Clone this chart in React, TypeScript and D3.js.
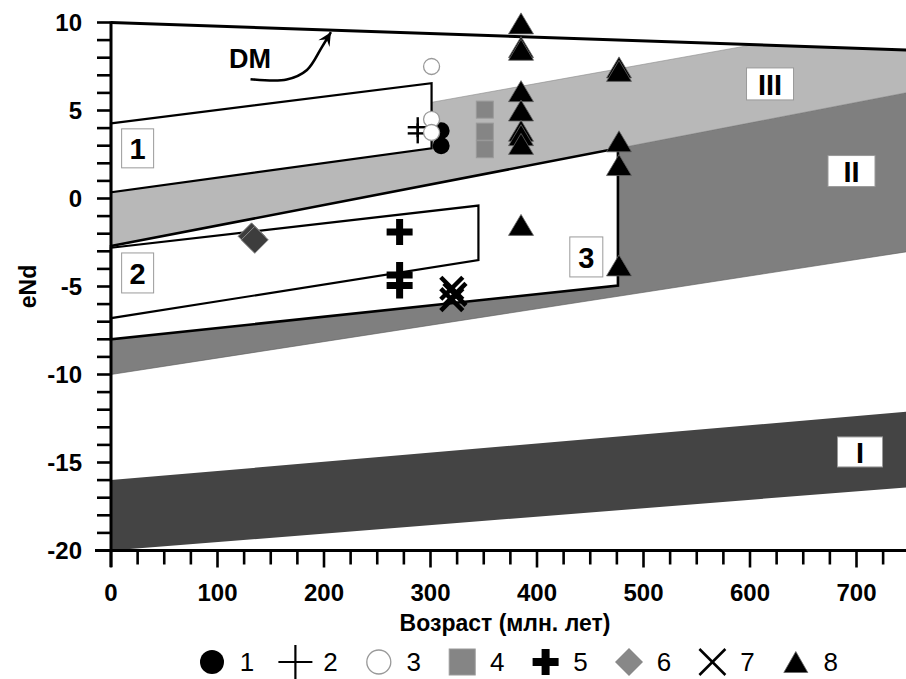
import React from 'react';
import * as d3 from 'd3';

const W = 906;
const H = 679;
const FONT = '"Liberation Sans", Arial, Helvetica, sans-serif';

// ---- axes ----
const xDomain: [number, number] = [0, 750];
const yDomain: [number, number] = [-20, 10];
const xMinorTicks = d3.range(0, 751, 25);
const xMajorTicks = [0, 100, 200, 300, 400, 500, 600, 700];
const yTicks = d3.range(-20, 11, 1);
const yTickLabels = [-20, -15, -10, -5, 0, 5, 10];
const xTitle = 'Возраст (млн. лет)';
const yTitle = 'eNd';

// ---- fields (age, eNd) ----
const dmLine: [number, number][] = [[0, 10], [750, 8.43]];
const zoneITop: [number, number][] = [[0, -16], [750, -12.1]];
const zoneIBottom: [number, number][] = [[0, -20], [750, -16.4]];
const zoneIITop: [number, number][] = [[0, -2.7], [750, 6.05]];
const zoneIIBottom: [number, number][] = [[0, -10], [750, -3.0]];
const zoneIIITop: [number, number][] = [[0, 2.2], [603, 8.74], [750, 8.43]];
const zoneIIIBottom: [number, number][] = [[0, -2.7], [750, 6.05]];
const region1: [number, number][] = [[0, 4.27], [301, 6.55], [301, 2.85], [0, 0.35]];
const region2: [number, number][] = [[0, -2.8], [345, -0.4], [345, -3.5], [0, -6.8]];
const region3: [number, number][] = [[0, -2.7], [476, 2.85], [476, -4.95], [0, -8.0]];

// labels of fields: [text, age, eNd, boxW, boxH]
const regionLabels: [string, number, number, number, number][] = [
  ['1', 25, 2.85, 32, 39],
  ['2', 25, -4.23, 32, 40],
  ['3', 446.3, -3.32, 33, 40],
  ['III', 618.8, 6.51, 47, 32],
  ['II', 695.3, 1.56, 47, 31],
  ['I', 703.3, -14.4, 45, 30],
];

const dmLabel: [number, number] = [130.5, 7.95];
const dmArrow: [number, number][] = [[131, 6.78], [165, 6.76], [184, 7.3], [198, 8.6], [206.5, 9.45]];

// ---- samples (age, eNd) ----
const s1: [number, number][] = [[310, 3.85], [310, 3.0]];
const s2: [number, number][] = [[288, 4.05], [288, 3.7]];
const s3: [number, number][] = [[301, 7.5], [301, 4.5], [301, 3.75]];
const s4: [number, number][] = [[351, 5.05], [351, 3.8], [351, 2.8]];
const s5: [number, number][] = [[271, -1.9], [271, -4.35], [271, -4.95]];
const s6: [number, number][] = [[132, -2.15], [135, -2.35]];
const s7: [number, number][] = [[320, -5.1], [323, -5.45], [320, -5.75]];
const s8: [number, number][] = [
  [385, 9.95], [385, 8.6], [385, 8.45], [385, 6.1], [385, 5.0], [385, 3.85], [385, 3.6], [385, 3.1], [385, -1.5],
  [477, 7.45], [477, 7.25], [477, 3.25], [477, 1.9], [477, -3.8],
];
const legendLabels = ['1', '2', '3', '4', '5', '6', '7', '8'];

const x = d3.scaleLinear().domain(xDomain).range([111, 111 + 750 * 1.065]);
const y = d3.scaleLinear().domain(yDomain).range([550.5, 22.5]);

const line = d3.line<[number, number]>().x(d => x(d[0])).y(d => y(d[1]));
const bandPath = (top: [number, number][], bottom: [number, number][]) =>
  line([...top, ...bottom.slice().reverse()]) + 'Z';
const polyPath = (pts: [number, number][]) => line(pts) + 'Z';

function tri(cx: number, cy: number, w: number, h: number) {
  return `M${cx},${cy - h / 2}L${cx + w / 2},${cy + h / 2}L${cx - w / 2},${cy + h / 2}Z`;
}
function boldPlus(cx: number, cy: number, s: number, t: number) {
  const a = s / 2, b = t / 2;
  return `M${cx - b},${cy - a}H${cx + b}V${cy - b}H${cx + a}V${cy + b}H${cx + b}V${cy + a}H${cx - b}V${cy + b}H${cx - a}V${cy - b}H${cx - b}Z`;
}
function diamond(cx: number, cy: number, s: number) {
  const a = s / 2;
  return `M${cx},${cy - a}L${cx + a},${cy}L${cx},${cy + a}L${cx - a},${cy}Z`;
}

function Symbol({ k, cx, cy, big }: { k: number; cx: number; cy: number; big?: boolean }) {
  switch (k) {
    case 0:
      return <circle cx={cx} cy={cy} r={big ? 12 : 8.5} fill="#000" />;
    case 1: {
      const a = big ? 17 : 10;
      return (
        <g stroke="#000" strokeWidth={big ? 2.2 : 2.4}>
          <line x1={cx - a} y1={cy} x2={cx + a} y2={cy} />
          <line x1={cx} y1={cy - a} x2={cx} y2={cy + a} />
        </g>
      );
    }
    case 2:
      return <circle cx={cx} cy={cy} r={big ? 12 : 8} fill="#fff" stroke="#999" strokeWidth={1.3} />;
    case 3: {
      const s = big ? 26 : 17;
      return <rect x={cx - s / 2} y={cy - s / 2} width={s} height={s} fill="#858585" stroke="#9a9a9a" strokeWidth={1} />;
    }
    case 4:
      return <path d={boldPlus(cx, cy, 26, big ? 8 : 7)} fill="#000" />;
    case 5:
      return big
        ? <path d={diamond(cx, cy, 28)} fill="#888" />
        : <path d={diamond(cx, cy, 27)} fill="#3d3d3d" stroke="#8a8a8a" strokeWidth={1} />;
    case 6: {
      const a = big ? 13 : 11;
      return (
        <g stroke="#000" strokeWidth={big ? 2.6 : 4.5}>
          <line x1={cx - a} y1={cy - a} x2={cx + a} y2={cy + a} />
          <line x1={cx - a} y1={cy + a} x2={cx + a} y2={cy - a} />
        </g>
      );
    }
    default:
      return <path d={tri(cx, cy, big ? 24 : 25, 21)} fill="#000" stroke="#666" strokeWidth={0.8} />;
  }
}

export default function App() {
  const series = [s1, s2, s3, s4, s5, s6, s7, s8];
  const arrowLine = d3.line<[number, number]>().x(d => x(d[0])).y(d => y(d[1])).curve(d3.curveCatmullRom);
  const tip = dmArrow[dmArrow.length - 1];
  const prev = dmArrow[dmArrow.length - 2];
  const tx = x(tip[0]), ty = y(tip[1]);
  const ang = Math.atan2(ty - y(prev[1]), tx - x(prev[0]));
  const ah = 15, aw = 0.45;
  const arrowHead = `M${tx},${ty}L${tx - ah * Math.cos(ang - aw)},${ty - ah * Math.sin(ang - aw)}L${tx - ah * 0.55 * Math.cos(ang)},${ty - ah * 0.55 * Math.sin(ang)}L${tx - ah * Math.cos(ang + aw)},${ty - ah * Math.sin(ang + aw)}Z`;

  return (
    <svg width={W} height={H} style={{ position: 'absolute', left: 0, top: 0, background: '#fff' }} fontFamily={FONT}>
      <rect x={0} y={0} width={W} height={H} fill="#fff" />
      {/* fields */}
      <path d={bandPath(zoneITop, zoneIBottom)} fill="#444444" />
      <path d={bandPath(zoneIITop, zoneIIBottom)} fill="#7f7f7f" stroke="#5a5a5a" strokeWidth={0.6} />
      <path d={bandPath(zoneIIITop, zoneIIIBottom)} fill="#b8b8b8" stroke="#8a8a8a" strokeWidth={0.6} />
      <path d={polyPath(region3)} fill="#fff" stroke="#000" strokeWidth={2.6} />
      <path d={polyPath(region2)} fill="#fff" stroke="#000" strokeWidth={2.2} />
      <path d={polyPath(region1)} fill="#fff" stroke="#000" strokeWidth={2.2} />
      <path d={line(dmLine) || ''} fill="none" stroke="#000" strokeWidth={3} />

      {/* DM annotation */}
      <text x={x(dmLabel[0])} y={y(dmLabel[1])} textAnchor="middle" dominantBaseline="central" fontSize={27} fontWeight="bold">DM</text>
      <path d={arrowLine(dmArrow) || ''} fill="none" stroke="#000" strokeWidth={2.6} />
      <path d={arrowHead} fill="#000" />

      {/* region labels */}
      {regionLabels.map(([t, a, v, w, h]) => (
        <g key={t}>
          <rect x={x(a) - w / 2} y={y(v) - h / 2} width={w} height={h} fill="#fff" stroke="#9a9a9a" strokeWidth={1} />
          <text x={x(a)} y={y(v) + 1} textAnchor="middle" dominantBaseline="central" fontSize={29} fontWeight="bold">{t}</text>
        </g>
      ))}

      {/* samples */}
      {series.map((pts, k) => (
        <g key={k}>
          {pts.map((p, i) => <Symbol key={i} k={k} cx={x(p[0])} cy={y(p[1])} />)}
        </g>
      ))}

      {/* axes */}
      <g stroke="#000">
        <line x1={x(0)} y1={y(10) - 1} x2={x(0)} y2={567} strokeWidth={3} />
        <line x1={95} y1={y(-20)} x2={W} y2={y(-20)} strokeWidth={3} />
        {yTicks.map(t => (
          <line key={t} x1={97} y1={y(t)} x2={x(0)} y2={y(t)} strokeWidth={2.6} />
        ))}
        {xMinorTicks.map(t => (
          <line key={t} x1={x(t)} y1={y(-20)} x2={x(t)} y2={y(-20) + (t % 100 === 0 ? 17 : 14)} strokeWidth={2.6} />
        ))}
      </g>
      {yTickLabels.map(t => (
        <text key={t} x={82} y={y(t)} textAnchor="end" dominantBaseline="central" fontSize={24} fontWeight="bold">{t}</text>
      ))}
      {xMajorTicks.map(t => (
        <text key={t} x={x(t)} y={601} textAnchor="middle" fontSize={24} fontWeight="bold">{t}</text>
      ))}
      <text x={505} y={631} textAnchor="middle" fontSize={23} fontWeight="bold">{xTitle}</text>
      <text transform={`translate(36,${y(-5)}) rotate(-90)`} textAnchor="middle" fontSize={23} fontWeight="bold">{yTitle}</text>

      {/* legend */}
      {legendLabels.map((l, i) => {
        const cx = 212 + i * 83.4;
        return (
          <g key={l}>
            <Symbol k={i} cx={cx} cy={662} big />
            <text x={cx + 35} y={662} textAnchor="middle" dominantBaseline="central" fontSize={26}>{l}</text>
          </g>
        );
      })}
    </svg>
  );
}
